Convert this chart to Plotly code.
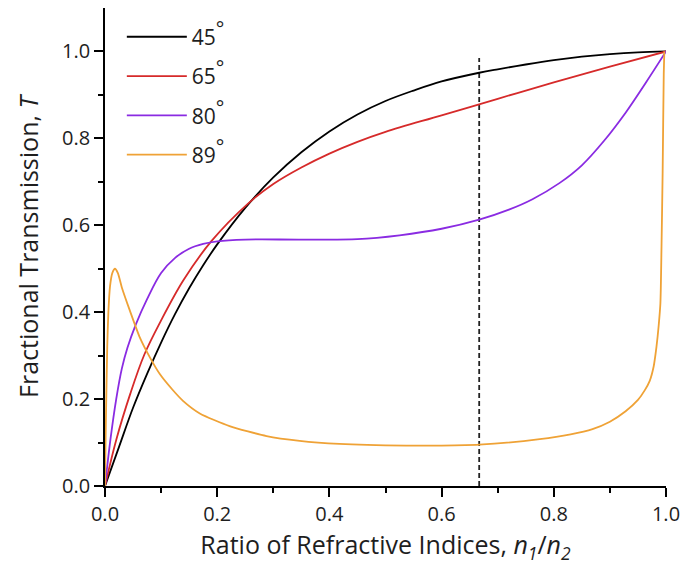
import plotly.graph_objects as go

# ---- data ----
angles = ["45", "65", "80", "89"]
colors = ["#000000", "#D62A2A", "#8A2BE2", "#EFA236"]

x45 = [0, 0.025, 0.05, 0.075, 0.1, 0.125, 0.15, 0.175, 0.2, 0.25, 0.3, 0.35, 0.4, 0.45, 0.5, 0.55, 0.6, 0.667, 0.7, 0.75, 0.8, 0.85, 0.9, 0.95, 1.0]
y45 = [0, 0.090, 0.180, 0.258, 0.330, 0.396, 0.455, 0.508, 0.556, 0.640, 0.710, 0.768, 0.816, 0.855, 0.886, 0.910, 0.931, 0.951, 0.959, 0.970, 0.980, 0.988, 0.994, 0.998, 1.0]

x65 = [0, 0.02, 0.045, 0.07, 0.1, 0.14, 0.19, 0.255, 0.3, 0.35, 0.4, 0.45, 0.5, 0.6, 0.7, 0.8, 0.9, 1.0]
y65 = [0, 0.106, 0.212, 0.302, 0.381, 0.474, 0.564, 0.650, 0.695, 0.733, 0.765, 0.792, 0.815, 0.853, 0.891, 0.929, 0.965, 1.0]

x80 = [0, 0.01, 0.02, 0.03, 0.04, 0.055, 0.075, 0.1, 0.125, 0.15, 0.175, 0.2, 0.25, 0.35, 0.45, 0.525, 0.6, 0.667, 0.72, 0.762, 0.81, 0.85, 0.89, 0.928, 0.964, 1.0]
y80 = [0, 0.110, 0.200, 0.270, 0.318, 0.372, 0.430, 0.490, 0.525, 0.546, 0.557, 0.563, 0.567, 0.567, 0.568, 0.577, 0.592, 0.613, 0.636, 0.660, 0.697, 0.738, 0.795, 0.859, 0.928, 1.0]

x89 = [0, 0.001, 0.002, 0.004, 0.006, 0.009, 0.013, 0.0178, 0.023, 0.030, 0.0445, 0.062, 0.080, 0.098, 0.120, 0.139, 0.169, 0.222, 0.288, 0.347, 0.418, 0.537, 0.600, 0.667, 0.775, 0.830, 0.869, 0.900, 0.928, 0.950, 0.962, 0.971, 0.978, 0.983, 0.987, 0.990, 0.992, 0.994, 0.996, 0.997]
y89 = [0, 0.10, 0.18, 0.32, 0.40, 0.46, 0.49, 0.50, 0.49, 0.457, 0.403, 0.342, 0.296, 0.257, 0.222, 0.196, 0.167, 0.138, 0.115, 0.104, 0.097, 0.093, 0.093, 0.095, 0.108, 0.119, 0.131, 0.148, 0.172, 0.198, 0.220, 0.242, 0.275, 0.320, 0.370, 0.420, 0.550, 0.720, 0.950, 1.0]

dash_x = [0.667, 0.667]
dash_y = [0.0, 0.985]

series_x = [x45, x65, x80, x89]
series_y = [y45, y65, y80, y89]
smooth = [1.0, 1.0, 1.0, 0.6]

FONT = "Open Sans"
TXT = "#1E1E1E"

fig = go.Figure()
fig.add_trace(go.Scatter(x=dash_x, y=dash_y, mode="lines",
                         line=dict(color="#222222", width=1.8, dash="5px,3px"),
                         showlegend=False, hoverinfo="skip"))
for i, (a, c, xs, ys, sm) in enumerate(zip(angles, colors, series_x, series_y, smooth)):
    fig.add_trace(go.Scatter(x=xs, y=ys, mode="lines",
                             name=f"{a}<sup><span style='font-size:20px'>°</span></sup>",
                             line=dict(color=c, width=1.8, shape="spline", smoothing=sm),
                             legendgroup=f"g{i}"))

axis_common = dict(
    showline=True, linecolor="#000000", linewidth=1.6,
    ticks="outside", ticklen=9, tickwidth=1.5, tickcolor="#000000",
    showgrid=False, zeroline=False, mirror=False, automargin=False,
    tickfont=dict(family=FONT, size=20, color=TXT),
)

fig.update_layout(
    width=681, height=576,
    margin=dict(l=105, r=15, t=8, b=90),
    paper_bgcolor="white", plot_bgcolor="white",
    font=dict(family=FONT, color=TXT),
    xaxis=dict(range=[0, 1.0], dtick=0.2, tickformat=".1f",
               minor=dict(dtick=0.1, ticks="outside", ticklen=5, tickwidth=1.5, tickcolor="#000000"),
               title=dict(text="Ratio of Refractive Indices, <i>n</i><sub><i>1</i></sub>/<i>n</i><sub><i>2</i></sub>",
                          font=dict(family=FONT, size=25, color=TXT), standoff=11),
               **axis_common),
    yaxis=dict(range=[0, 1.1], tickvals=[0, 0.2, 0.4, 0.6, 0.8, 1.0], tickformat=".1f",
               minor=dict(tickvals=[0.1, 0.3, 0.5, 0.7, 0.9], ticks="outside", ticklen=5, tickwidth=1.5, tickcolor="#000000"),
               title=dict(text="Fractional Transmission, <i>T</i>",
                          font=dict(family=FONT, size=25, color=TXT), standoff=16),
               **axis_common),
    legend=dict(x=0.03, y=0.982, xanchor="left", yanchor="top",
                bgcolor="rgba(0,0,0,0)", borderwidth=0,
                font=dict(family=FONT, size=21, color=TXT),
                traceorder="grouped", tracegroupgap=9, itemwidth=60),
)

fig.write_html("out.html")
